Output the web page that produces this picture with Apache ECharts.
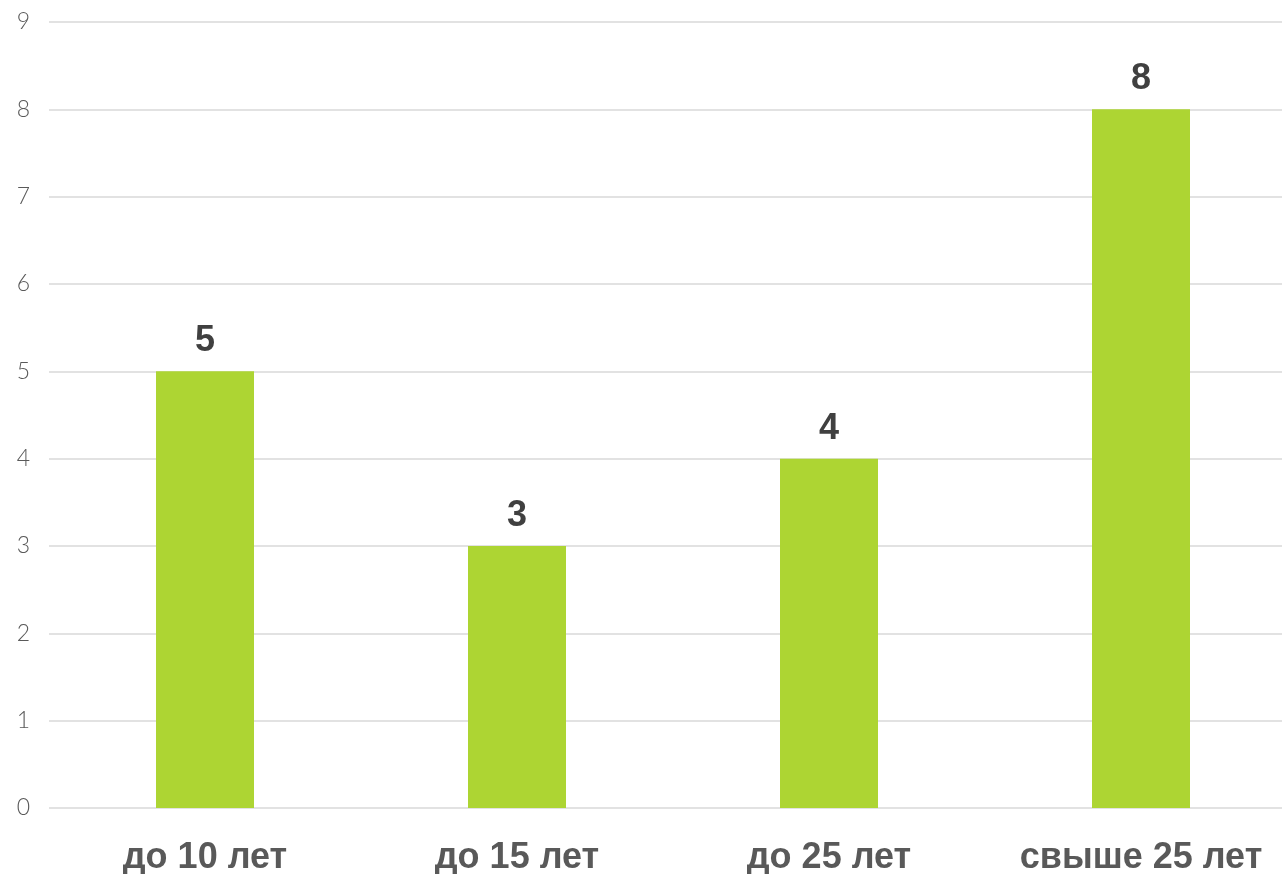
<!DOCTYPE html>
<html><head><meta charset="utf-8">
<script src="https://cdn.jsdelivr.net/npm/echarts@6/dist/echarts.min.js"></script>
<style>html,body{margin:0;padding:0;background:#fff}#c{width:1282px;height:874px}</style>
</head><body><div id="c"></div>
<script>
const categories = ['до 10 лет', 'до 15 лет', 'до 25 лет', 'свыше 25 лет'];
const values = [5, 3, 4, 8];
const yTicks = [0, 1, 2, 3, 4, 5, 6, 7, 8, 9];

const chart = echarts.init(document.getElementById('c'), null, {renderer: 'canvas'});
chart.setOption({
  animation: false,
  backgroundColor: '#ffffff',
  grid: {left: 49, width: 1248, top: 22, height: 786, containLabel: false, outerBoundsMode: 'none'},
  xAxis: {
    type: 'category',
    data: categories,
    axisLine: {show: false},
    axisTick: {show: false},
    axisLabel: {
      margin: 32,
      color: '#595959',
      fontFamily: 'Liberation Sans',
      fontWeight: 'bold',
      fontSize: 36,
      interval: 0
    }
  },
  yAxis: {
    type: 'value',
    min: yTicks[0],
    max: yTicks[yTicks.length - 1],
    interval: 1,
    axisLine: {show: false},
    axisTick: {show: false},
    splitLine: {lineStyle: {color: '#d9d9d9', width: 1.5}},
    axisLabel: {
      margin: 19,
      color: '#595959',
      fontFamily: 'Lato',
      fontWeight: 300,
      fontSize: 23
    }
  },
  series: [{
    type: 'bar',
    data: values,
    barWidth: 98,
    itemStyle: {color: '#add533'},
    label: {
      show: true,
      position: 'top',
      distance: 12,
      color: '#404040',
      fontFamily: 'Liberation Sans',
      fontWeight: 'bold',
      fontSize: 36
    }
  }]
});
</script>
</body></html>
